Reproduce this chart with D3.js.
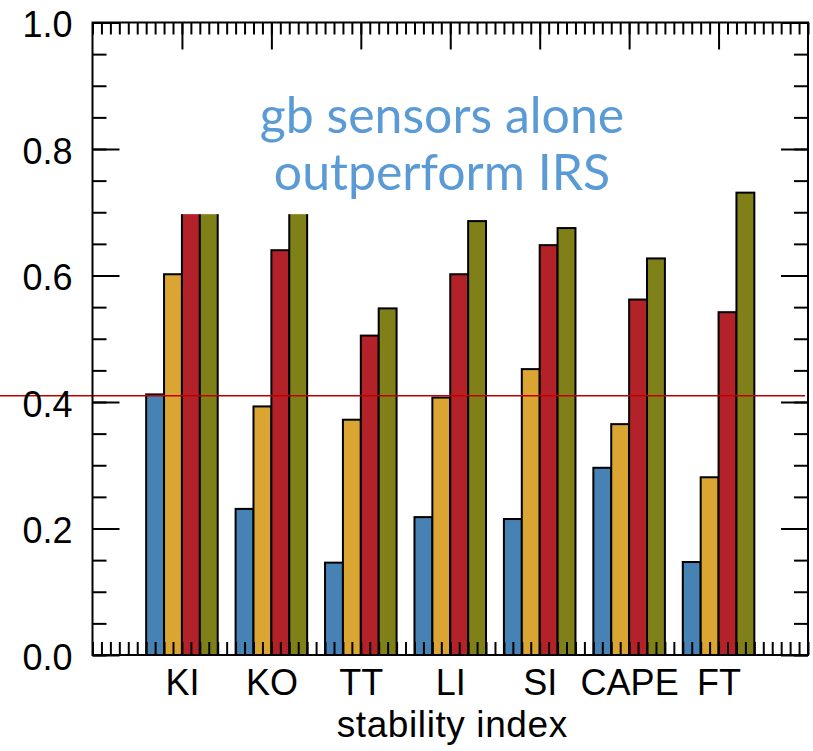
<!DOCTYPE html>
<html>
<head>
<meta charset="utf-8">
<script src="https://cdn.jsdelivr.net/npm/d3@7/dist/d3.min.js"></script>
<style>
  html, body { margin: 0; padding: 0; background: #fff; }
  svg { display: block; }
</style>
</head>
<body>
<svg id="chart" width="813" height="751"></svg>
<script>
// Stability indices on the x axis
const categories = ["KI", "KO", "TT", "LI", "SI", "CAPE", "FT"];

// Four configurations per index
const seriesBlue   = [0.412, 0.231, 0.146, 0.218, 0.215, 0.296, 0.147];
const seriesYellow = [0.602, 0.393, 0.372, 0.407, 0.452, 0.365, 0.281];
const seriesRed    = [0.700, 0.640, 0.505, 0.602, 0.648, 0.562, 0.542];
const seriesOlive  = [0.700, 0.700, 0.548, 0.686, 0.675, 0.627, 0.731];

const seriesColors = ["#4682b4", "#daa532", "#b22228", "#808019"];
const series = [seriesBlue, seriesYellow, seriesRed, seriesOlive];

// Reference level drawn across the panel
const refLevel = 0.41;

const yTickLabels = ["0.0", "0.2", "0.4", "0.6", "0.8", "1.0"];
const yMajor = [0, 0.2, 0.4, 0.6, 0.8, 1.0];

const annotationLines = ["gb sensors alone", "outperform IRS"];

// ---- layout ----
const svg = d3.select("#chart");
const plotL = 92.5, plotR = 808, plotT = 22.5, plotB = 655;

const x = d3.scaleLinear().domain([0, 8]).range([plotL, plotR]);
const y = d3.scaleLinear().domain([0, 1]).range([plotB, plotT]);

const barW = 0.2;
const rows = [];
series.forEach((vals, j) => {
  vals.forEach((v, i) => {
    rows.push({ i, j, v, x0: (i + 1) - 0.4 + j * barW });
  });
});

// bars
svg.append("g").selectAll("rect")
  .data(rows)
  .join("rect")
  .attr("x", d => x(d.x0))
  .attr("y", d => y(d.v))
  .attr("width", x(barW) - x(0))
  .attr("height", d => y(0) - y(d.v))
  .attr("fill", d => seriesColors[d.j])
  .attr("stroke", "#000")
  .attr("stroke-width", 2);

// white annotation box with the blue text
svg.append("rect")
  .attr("x", 140).attr("y", 60)
  .attr("width", 520).attr("height", y(0.697) - 60)
  .attr("fill", "#fff");

const ann = svg.append("g")
  .attr("font-family", "Lato, 'Open Sans', sans-serif")
  .attr("font-size", 50)
  .attr("fill", "#5b9bd5")
  .attr("text-anchor", "middle");
ann.selectAll("text")
  .data(annotationLines)
  .join("text")
  .attr("x", 442)
  .attr("y", (d, k) => 133 + k * 57)
  .text(d => d);

// reference line
svg.append("line")
  .attr("x1", 0).attr("x2", plotR - 3)
  .attr("y1", y(refLevel)).attr("y2", y(refLevel))
  .attr("stroke", "#c00000")
  .attr("stroke-width", 1.5);

// ---- axes ----
const axisFont = "'Liberation Sans', Arial, Helvetica, sans-serif";
function styleAxis(g) {
  g.select(".domain").remove();
  g.selectAll("line").attr("stroke", "#000").attr("stroke-width", 2);
  g.selectAll("text").attr("font-family", axisFont).attr("font-size", 36).attr("fill", "#000");
}

const xMinor = d3.range(0, 81).map(k => k / 10);
const yMinor = d3.range(0, 21).map(k => k / 20);
const xMajor = d3.range(1, 8);

// bottom minor ticks
svg.append("g").attr("transform", `translate(0,${plotB})`)
  .call(d3.axisBottom(x).tickValues(xMinor).tickSize(-13).tickFormat(""))
  .call(styleAxis);
// top minor + major ticks
svg.append("g").attr("transform", `translate(0,${plotT})`)
  .call(d3.axisTop(x).tickValues(xMinor).tickSize(-12).tickFormat(""))
  .call(styleAxis);
svg.append("g").attr("transform", `translate(0,${plotT})`)
  .call(d3.axisTop(x).tickValues(xMajor).tickSize(-27).tickFormat(""))
  .call(styleAxis);

// left ticks and labels
svg.append("g").attr("transform", `translate(${plotL},0)`)
  .call(d3.axisLeft(y).tickValues(yMinor).tickSize(-14).tickFormat(""))
  .call(styleAxis);
svg.append("g").attr("transform", `translate(${plotL},0)`)
  .call(d3.axisLeft(y).tickValues(yMajor).tickSize(-27).tickPadding(20)
    .tickFormat((d, k) => yTickLabels[k]))
  .call(styleAxis)
  .call(g => g.selectAll("text").attr("dy", "0.4em"));

// right ticks
svg.append("g").attr("transform", `translate(${plotR},0)`)
  .call(d3.axisRight(y).tickValues(yMinor).tickSize(-14).tickFormat(""))
  .call(styleAxis);
svg.append("g").attr("transform", `translate(${plotR},0)`)
  .call(d3.axisRight(y).tickValues(yMajor).tickSize(-27).tickFormat(""))
  .call(styleAxis);

// category labels
svg.append("g").attr("transform", `translate(0,${plotB})`)
  .call(d3.axisBottom(x).tickValues(xMajor).tickSize(0).tickPadding(14)
    .tickFormat((d, k) => categories[k]))
  .call(styleAxis);

// frame
svg.append("rect")
  .attr("x", plotL).attr("y", plotT)
  .attr("width", plotR - plotL).attr("height", plotB - plotT)
  .attr("fill", "none").attr("stroke", "#000").attr("stroke-width", 2);

// axis title
svg.append("text")
  .attr("x", (plotL + plotR) / 2 + 2)
  .attr("y", 737)
  .attr("text-anchor", "middle")
  .attr("font-family", axisFont)
  .attr("font-size", 37)
  .attr("letter-spacing", 0.6)
  .text("stability index");
</script>
</body>
</html>
